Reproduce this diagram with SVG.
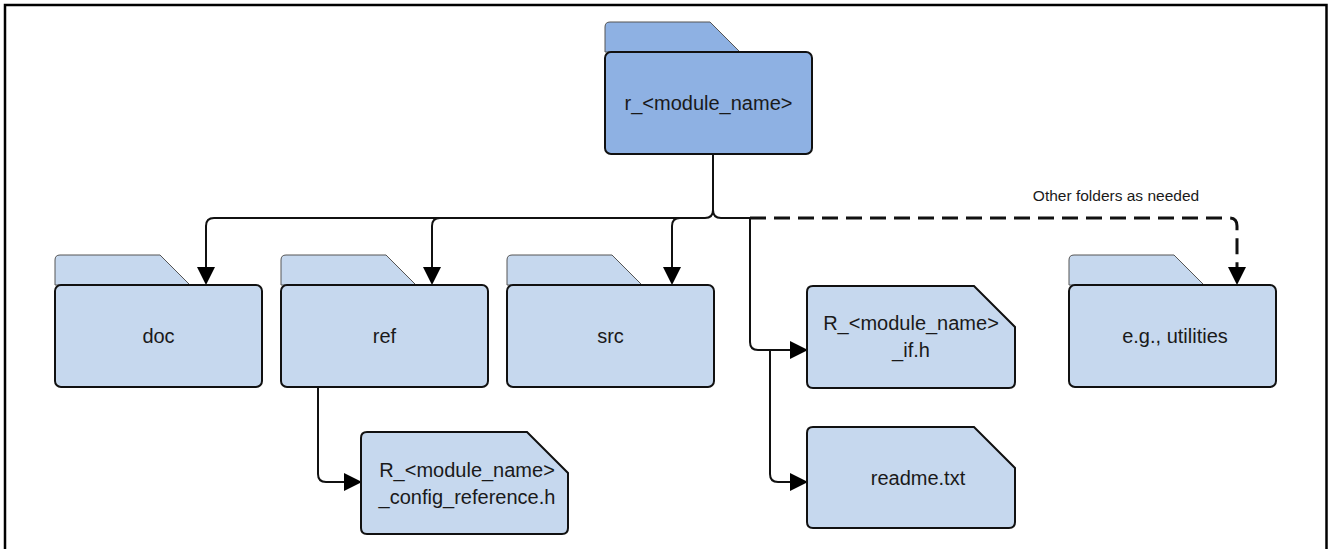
<svg xmlns="http://www.w3.org/2000/svg" width="1328" height="549" viewBox="0 0 1328 549">
<defs>
<style>
.tab{fill:#C6D8EE;stroke:#555;stroke-width:1}
.body{fill:#C6D8EE;stroke:#111;stroke-width:2}
.top .tab,.top .body{fill:#8EB1E3}
.lbl{font-family:"Liberation Sans",Arial,sans-serif;font-size:20px;fill:#1a1a1a;text-anchor:middle}
.note{font-family:"Liberation Sans",Arial,sans-serif;font-size:15.5px;fill:#1a1a1a;text-anchor:middle}
.con{fill:none;stroke:#111;stroke-width:2}
.dash{fill:none;stroke:#111;stroke-width:3;stroke-dasharray:16 8}
</style>
<marker id="arr" viewBox="0 0 18 18" refX="15" refY="9" markerWidth="18" markerHeight="18" markerUnits="userSpaceOnUse" orient="auto">
<path d="M0,0 L18,9 L0,18 Z" fill="#000"/>
</marker>
</defs>
<rect x="5" y="5" width="1321.5" height="570" fill="#fff" stroke="#000" stroke-width="2.5"/>

<g id="connectors">
<path class="con" d="M713,154 V210 Q713,218 705,218 H214 Q206,218 206,226 V282" marker-end="url(#arr)"/>
<path class="con" d="M440,218 Q432,218 432,226 V282" marker-end="url(#arr)"/>
<path class="con" d="M680,218 Q672,218 672,226 V282" marker-end="url(#arr)"/>
<path class="con" d="M713,210 Q713,218 721,218 H750 V342 Q750,350 758,350 H805" marker-end="url(#arr)"/>
<path class="con" d="M770,350 V474 Q770,482 778,482 H805" marker-end="url(#arr)"/>
<path class="con" d="M318,387 V474 Q318,482 326,482 H359" marker-end="url(#arr)"/>
<path class="dash" d="M750,218 H1229 Q1237,218 1237,226 V282" marker-end="url(#arr)"/>
<text class="note" x="1116" y="201">Other folders as needed</text>
</g>

<g id="r_module" class="top">
<path class="tab" d="M605,52 V27 Q605,22 610,22 H710 L740,52 Z"/>
<rect class="body" x="605" y="52" width="207" height="102" rx="6"/>
<text class="lbl" x="708.5" y="110">r_&lt;module_name&gt;</text>
</g>

<g id="doc">
<path class="tab" d="M55,285 V260 Q55,255 60,255 H160 L190,285 Z"/>
<rect class="body" x="55" y="285" width="207" height="102" rx="6"/>
<text class="lbl" x="158.5" y="343">doc</text>
</g>

<g id="ref">
<path class="tab" d="M281,285 V260 Q281,255 286,255 H386 L416,285 Z"/>
<rect class="body" x="281" y="285" width="207" height="102" rx="6"/>
<text class="lbl" x="384.5" y="343">ref</text>
</g>

<g id="src">
<path class="tab" d="M507,285 V260 Q507,255 512,255 H612 L642,285 Z"/>
<rect class="body" x="507" y="285" width="207" height="102" rx="6"/>
<text class="lbl" x="610.5" y="343">src</text>
</g>

<g id="utilities">
<path class="tab" d="M1069,285 V260 Q1069,255 1074,255 H1174 L1204,285 Z"/>
<rect class="body" x="1069" y="285" width="207" height="102" rx="6"/>
<text class="lbl" x="1175" y="343">e.g., utilities</text>
</g>

<g id="if_h">
<path class="body" d="M813,286 H974 L1015,327 V382 Q1015,388 1009,388 H813 Q807,388 807,382 V292 Q807,286 813,286 Z"/>
<text class="lbl" x="911" y="330">R_&lt;module_name&gt;</text>
<text class="lbl" x="911" y="357">_if.h</text>
</g>

<g id="readme">
<path class="body" d="M813,427 H974 L1015,468 V522 Q1015,528 1009,528 H813 Q807,528 807,522 V433 Q807,427 813,427 Z"/>
<text class="lbl" x="918" y="485">readme.txt</text>
</g>

<g id="config_ref">
<path class="body" d="M367,432 H527 L568,473 V528 Q568,534 562,534 H367 Q361,534 361,528 V438 Q361,432 367,432 Z"/>
<text class="lbl" x="467" y="477">R_&lt;module_name&gt;</text>
<text class="lbl" x="467" y="504">_config_reference.h</text>
</g>
</svg>
